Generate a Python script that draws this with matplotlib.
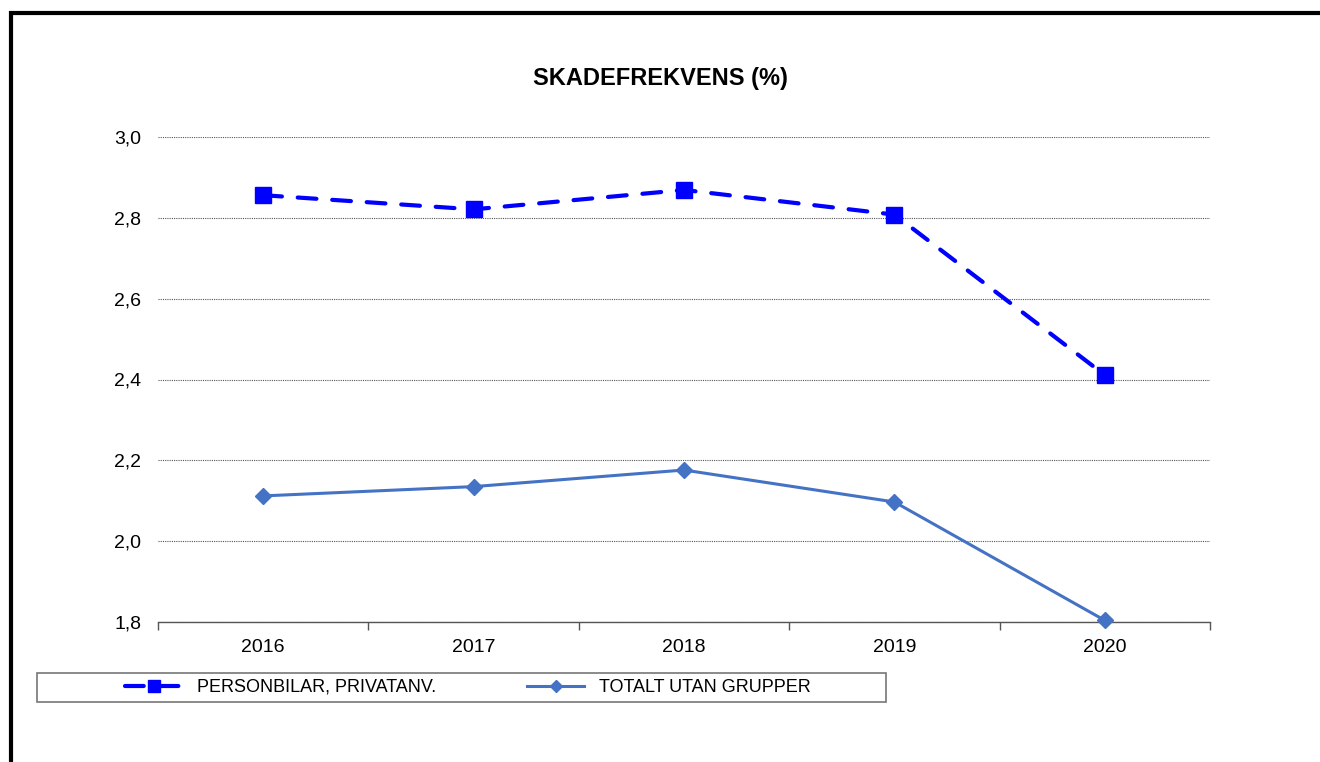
import matplotlib
matplotlib.use("Agg")
import matplotlib.pyplot as plt
from matplotlib.patches import Rectangle
from matplotlib.ticker import FixedLocator, NullFormatter

plt.rcParams['font.family'] = ['Liberation Sans', 'DejaVu Sans']

years = ["2016", "2017", "2018", "2019", "2020"]
personbilar = [2.856, 2.821, 2.869, 2.808, 2.411]
totalt = [2.112, 2.135, 2.176, 2.097, 1.804]
yticks = [1.8, 2.0, 2.2, 2.4, 2.6, 2.8, 3.0]
title = "SKADEFREKVENS (%)"
labels = ["PERSONBILAR, PRIVATANV.", "TOTALT UTAN GRUPPER"]

W, H = 1320, 762
fig = plt.figure(figsize=(W / 100, H / 100), dpi=100)
ax = fig.add_axes([158 / W, 1 - 622 / H, (1210 - 158) / W, (622 - 137) / H])

x = list(range(len(years)))
l1, = ax.plot(x, personbilar, color="#0000FF", lw=3, ls=(0, (4.5, 3.8)),
              dash_capstyle="round", marker="s", ms=11, mec="#0000FF",
              mfc="#0000FF", zorder=5, clip_on=False)
l2, = ax.plot(x, totalt, color="#4472C4", lw=2.2, marker="D", ms=8,
              mec="#4472C4", mfc="#4472C4", zorder=4, clip_on=False)

ax.set_xlim(-0.5, len(years) - 0.5)
ax.set_ylim(1.8, 3.0)
ax.set_yticks(yticks)
ax.set_yticklabels([f"{v:.1f}".replace(".", ",") for v in yticks], fontsize=14)
ax.tick_params(axis="y", length=0, pad=12)
ax.set_xticks(x)
ax.set_xticklabels(years, fontsize=14)
ax.tick_params(axis="x", which="major", length=0, pad=12)
ax.xaxis.set_minor_locator(FixedLocator([i - 0.5 for i in range(len(years) + 1)]))
ax.xaxis.set_minor_formatter(NullFormatter())
ax.tick_params(axis="x", which="minor", length=6, width=1, color="#555555", direction="out")

ax.yaxis.grid(True, color="#555555", ls=(0, (1, 1)), lw=0.8)
ax.set_axisbelow(True)
for s in ["left", "right", "top"]:
    ax.spines[s].set_visible(False)
ax.spines["bottom"].set_color("#555555")
ax.spines["bottom"].set_linewidth(1)

fig.text(660 / W, 1 - 78 / H, title, ha="center", va="center",
         fontsize=17, fontweight="bold")

# outer frame
fig.patches.append(Rectangle((11 / W, -0.1), 1.2, 1 - 13 / H + 0.1,
                             transform=fig.transFigure, fill=False,
                             ec="black", lw=3))
# legend box
fig.patches.append(Rectangle((37 / W, 1 - 702 / H), (886 - 37) / W, 29 / H,
                             transform=fig.transFigure, fill=False,
                             ec="#777777", lw=1.2))
leg = fig.legend([l1, l2], labels, loc="center left",
                 bbox_to_anchor=(125 / W, 1 - 687.5 / H), ncol=2, frameon=False,
                 fontsize=13, handlelength=3.2, handletextpad=0.8,
                 columnspacing=5.0, borderpad=0, borderaxespad=0,
                 markerscale=0.8)

fig.savefig("out.png", dpi=100)
